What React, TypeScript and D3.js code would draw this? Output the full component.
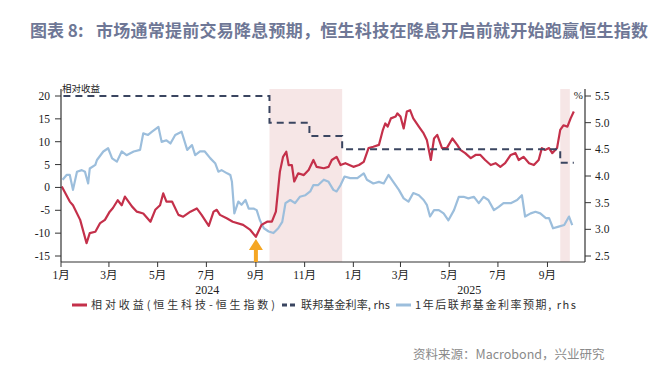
import React from "react";
import * as d3 from "d3";

// ---- data ----
const relativeReturn: [string, number][] = [
  ["2024-01-02", 0.2], ["2024-01-12", -3.1], ["2024-01-16", -3.9], ["2024-01-25", -7.1],
  ["2024-02-02", -12.2], ["2024-02-06", -10.0], ["2024-02-13", -9.7], ["2024-02-19", -7.8],
  ["2024-02-25", -7.1], ["2024-03-02", -5.3], ["2024-03-06", -4.5], ["2024-03-12", -2.8],
  ["2024-03-17", -3.9], ["2024-03-21", -2.0], ["2024-03-30", -4.2], ["2024-04-05", -5.3],
  ["2024-04-13", -5.7], ["2024-04-22", -7.5], ["2024-04-28", -4.9], ["2024-05-04", -3.9],
  ["2024-05-08", -1.3], ["2024-05-12", -3.1], ["2024-05-19", -3.1], ["2024-05-27", -6.0],
  ["2024-06-02", -6.4], ["2024-06-11", -5.3], ["2024-06-19", -4.6], ["2024-06-25", -6.0],
  ["2024-07-04", -8.4], ["2024-07-10", -5.3], ["2024-07-14", -4.9], ["2024-07-18", -6.0],
  ["2024-07-27", -6.8], ["2024-08-03", -7.5], ["2024-08-16", -8.2], ["2024-08-25", -9.3],
  ["2024-09-01", -10.8], ["2024-09-08", -8.2], ["2024-09-15", -7.5], ["2024-09-21", -7.5],
  ["2024-09-26", -5.3], ["2024-10-01", 3.4], ["2024-10-05", 6.7], ["2024-10-09", 7.8],
  ["2024-10-12", 4.9], ["2024-10-16", 4.9], ["2024-10-19", 1.3], ["2024-10-24", 3.1],
  ["2024-10-31", 2.7], ["2024-11-06", 3.8], ["2024-11-12", 6.0], ["2024-11-16", 4.5],
  ["2024-11-25", 4.2], ["2024-12-01", 4.5], ["2024-12-05", 6.0], ["2024-12-11", 6.7],
  ["2024-12-16", 4.9], ["2024-12-22", 5.3], ["2025-01-01", 4.5], ["2025-01-08", 4.9],
  ["2025-01-14", 5.6], ["2025-01-20", 8.6], ["2025-01-26", 8.9], ["2025-02-02", 9.3],
  ["2025-02-07", 12.6], ["2025-02-10", 14.0], ["2025-02-13", 13.3], ["2025-02-17", 15.1],
  ["2025-02-23", 15.5], ["2025-02-25", 16.2], ["2025-03-01", 15.5], ["2025-03-05", 12.9],
  ["2025-03-09", 16.6], ["2025-03-13", 16.9], ["2025-03-17", 15.1], ["2025-03-24", 13.3],
  ["2025-03-30", 11.8], ["2025-04-03", 10.4], ["2025-04-08", 6.0], ["2025-04-12", 10.7],
  ["2025-04-16", 11.5], ["2025-04-22", 8.6], ["2025-04-28", 8.6], ["2025-05-05", 10.7],
  ["2025-05-11", 9.3], ["2025-05-15", 8.2], ["2025-05-21", 7.5], ["2025-05-28", 6.4],
  ["2025-06-03", 7.1], ["2025-06-09", 7.1], ["2025-06-15", 6.0], ["2025-06-22", 4.9],
  ["2025-06-28", 5.3], ["2025-07-04", 4.5], ["2025-07-10", 5.3], ["2025-07-17", 7.1],
  ["2025-07-23", 7.5], ["2025-07-27", 6.0], ["2025-08-02", 6.7], ["2025-08-09", 5.3],
  ["2025-08-15", 4.9], ["2025-08-21", 6.0], ["2025-08-25", 8.6], ["2025-08-29", 8.2],
  ["2025-09-03", 8.6], ["2025-09-07", 7.5], ["2025-09-13", 8.6], ["2025-09-17", 12.6],
  ["2025-09-21", 13.6], ["2025-09-26", 13.3], ["2025-09-30", 15.1], ["2025-10-04", 16.6],
];

const fedExpect1y: [string, number][] = [
  ["2024-01-03", 3.93], ["2024-01-08", 4.02], ["2024-01-12", 4.02], ["2024-01-16", 3.74],
  ["2024-01-21", 4.08], ["2024-01-27", 4.11], ["2024-01-31", 4.08], ["2024-02-04", 3.86],
  ["2024-02-06", 4.14], ["2024-02-13", 4.21], ["2024-02-15", 4.30], ["2024-02-23", 4.46],
  ["2024-02-29", 4.52], ["2024-03-05", 4.33], ["2024-03-11", 4.27], ["2024-03-17", 4.46],
  ["2024-03-23", 4.39], ["2024-04-01", 4.46], ["2024-04-09", 4.49], ["2024-04-13", 4.80],
  ["2024-04-19", 4.77], ["2024-04-24", 4.83], ["2024-05-02", 4.92], ["2024-05-06", 4.64],
  ["2024-05-12", 4.67], ["2024-05-17", 4.61], ["2024-05-23", 4.77], ["2024-05-31", 4.83],
  ["2024-06-07", 4.49], ["2024-06-13", 4.58], ["2024-06-17", 4.39], ["2024-06-23", 4.46],
  ["2024-06-29", 4.46], ["2024-07-06", 4.33], ["2024-07-12", 4.24], ["2024-07-16", 4.08],
  ["2024-07-20", 4.11], ["2024-07-27", 4.05], ["2024-07-31", 4.02], ["2024-08-02", 3.89],
  ["2024-08-05", 3.30], ["2024-08-10", 3.52], ["2024-08-14", 3.46], ["2024-08-19", 3.55],
  ["2024-08-23", 3.39], ["2024-08-29", 3.39], ["2024-09-02", 3.36], ["2024-09-06", 3.17],
  ["2024-09-11", 3.02], ["2024-09-17", 2.96], ["2024-09-23", 2.93], ["2024-09-29", 3.02],
  ["2024-10-04", 3.14], ["2024-10-08", 3.49], ["2024-10-14", 3.55], ["2024-10-20", 3.49],
  ["2024-10-26", 3.61], ["2024-11-02", 3.64], ["2024-11-08", 3.71], ["2024-11-12", 3.83],
  ["2024-11-18", 3.83], ["2024-11-25", 3.93], ["2024-12-01", 3.89], ["2024-12-07", 3.74],
  ["2024-12-11", 3.71], ["2024-12-16", 3.83], ["2024-12-21", 3.99], ["2024-12-28", 3.96],
  ["2025-01-06", 3.96], ["2025-01-14", 4.05], ["2025-01-18", 3.93], ["2025-01-26", 3.86],
  ["2025-02-02", 3.89], ["2025-02-08", 3.86], ["2025-02-14", 4.02], ["2025-02-20", 3.89],
  ["2025-02-27", 3.74], ["2025-03-05", 3.58], ["2025-03-11", 3.52], ["2025-03-17", 3.68],
  ["2025-03-24", 3.64], ["2025-03-30", 3.55], ["2025-04-03", 3.46], ["2025-04-07", 3.24],
  ["2025-04-12", 3.36], ["2025-04-18", 3.36], ["2025-04-24", 3.30], ["2025-04-30", 3.17],
  ["2025-05-07", 3.36], ["2025-05-13", 3.61], ["2025-05-19", 3.61], ["2025-05-25", 3.58],
  ["2025-06-01", 3.61], ["2025-06-07", 3.49], ["2025-06-13", 3.61], ["2025-06-19", 3.55],
  ["2025-06-26", 3.36], ["2025-07-02", 3.42], ["2025-07-08", 3.49], ["2025-07-17", 3.49],
  ["2025-07-25", 3.55], ["2025-07-31", 3.64], ["2025-08-04", 3.24], ["2025-08-11", 3.30],
  ["2025-08-17", 3.33], ["2025-08-23", 3.30], ["2025-08-30", 3.21], ["2025-09-03", 3.21],
  ["2025-09-08", 3.02], ["2025-09-15", 3.05], ["2025-09-22", 3.08], ["2025-09-28", 3.24],
  ["2025-10-02", 3.08],
];

const fedFundsRate: [string, number][] = [
  ["2024-01-04", 5.5], ["2024-09-18", 5.0], ["2024-11-07", 4.75],
  ["2024-12-18", 4.5], ["2025-09-17", 4.25], ["2025-10-04", 4.25],
];

const cutPeriods: [string, string][] = [
  ["2024-09-18", "2024-12-18"],
  ["2025-09-17", "2025-09-29"],
];

const leftTicks = [20, 15, 10, 5, 0, -5, -10, -15];
const rightTicks = [5.5, 5.0, 4.5, 4.0, 3.5, 3.0, 2.5];
const monthTicks = [
  "2024-01-01", "2024-03-01", "2024-05-01", "2024-07-01", "2024-09-01", "2024-11-01",
  "2025-01-01", "2025-03-01", "2025-05-01", "2025-07-01", "2025-09-01",
];
const yearLabels: [string, string, string][] = [
  ["2024", "2024-01-01", "2025-01-01"],
  ["2025", "2025-01-01", "2025-10-18"],
];
const arrowDate = "2024-09-01";

const titleLabel = "图表 8:";
const titleText = "市场通常提前交易降息预期，恒生科技在降息开启前就开始跑赢恒生指数";
const legendNames = ["相对收益(恒生科技-恒生指数)", "联邦基金利率, rhs", "1年后联邦基金利率预期, rhs"];
const source = "资料来源：Macrobond，兴业研究";

const parse = d3.timeParse("%Y-%m-%d") as (s: string) => Date;

export default function App() {
  const W = 672, H = 376;
  const x0 = 61, x1 = 585, yTop = 89, yBot = 262;
  const x = d3.scaleTime().domain([parse("2024-01-01"), parse("2025-10-18")]).range([x0, x1]);
  const yL = d3.scaleLinear().domain([-15, 20]).range([256, 96]);
  const yR = d3.scaleLinear().domain([2.5, 5.5]).range([256, 96]);

  const red = "#c4304a";
  const blue = "#9cbedc";
  const navy = "#3a4560";
  const serif = "'Liberation Serif', 'Noto Sans CJK SC', serif";
  const cjk = "'Noto Sans CJK SC', sans-serif";

  const lineL = d3.line<[string, number]>().x(d => x(parse(d[0]))).y(d => yL(d[1]));
  const lineR = d3.line<[string, number]>().x(d => x(parse(d[0]))).y(d => yR(d[1]));
  const stepR = d3.line<[string, number]>().x(d => x(parse(d[0]))).y(d => yR(d[1])).curve(d3.curveStepAfter);

  const ax = x(parse(arrowDate));

  return (
    <div style={{ position: "absolute", left: 0, top: 0 }}>
      <svg width={W} height={H} style={{ display: "block", background: "#fff" }}>
        <text x={30} y={37} fontFamily={cjk} fontWeight={700} fontSize={17} fill="#6e7796">{titleLabel}</text>
        <text x={96} y={37} fontFamily={cjk} fontWeight={700} fontSize={17} fill="#6e7796" textLength={552} lengthAdjust="spacing">{titleText}</text>

        {cutPeriods.map((p, i) => (
          <rect key={i} x={x(parse(p[0]))} y={yTop} width={x(parse(p[1])) - x(parse(p[0]))} height={yBot - yTop} fill="#f6e6e6" />
        ))}

        <path d={lineR(fedExpect1y) || ""} fill="none" stroke={blue} strokeWidth={2.2} strokeLinejoin="round" />
        <path d={lineL(relativeReturn) || ""} fill="none" stroke={red} strokeWidth={2.2} strokeLinejoin="round" />
        <path d={stepR(fedFundsRate) || ""} fill="none" stroke={navy} strokeWidth={2} strokeDasharray="7,5" />

        {/* axes */}
        <line x1={x0} x2={x0} y1={yTop} y2={yBot} stroke="#333" strokeWidth={1.2} />
        <line x1={x1} x2={x1} y1={yTop} y2={yBot} stroke="#333" strokeWidth={1.2} />
        <line x1={x0} x2={x1} y1={yBot} y2={yBot} stroke="#333" strokeWidth={1.2} />

        {leftTicks.map(t => (
          <g key={"l" + t}>
            <line x1={x0 - 6} x2={x0} y1={yL(t)} y2={yL(t)} stroke="#333" />
            <text x={x0 - 11} y={yL(t) + 4} textAnchor="end" fontFamily={serif} fontSize={11.5} fill="#222">{t}</text>
          </g>
        ))}
        {rightTicks.map(t => (
          <g key={"r" + t}>
            <line x1={x1} x2={x1 + 6} y1={yR(t)} y2={yR(t)} stroke="#333" />
            <text x={x1 + 10} y={yR(t) + 4} textAnchor="start" fontFamily={serif} fontSize={11.5} fill="#222">{t.toFixed(1)}</text>
          </g>
        ))}
        {monthTicks.map(m => {
          const d = parse(m);
          return (
            <g key={m}>
              <line x1={x(d)} x2={x(d)} y1={yBot} y2={yBot + 5} stroke="#333" />
              <text x={x(d)} y={yBot + 17} textAnchor="middle" fontFamily={serif} fontSize={11.5} fill="#222">{(d.getMonth() + 1) + "月"}</text>
            </g>
          );
        })}
        {yearLabels.map(([lab, a, b]) => (
          <text key={lab} x={(x(parse(a)) + x(parse(b))) / 2} y={294} textAnchor="middle" fontFamily={serif} fontSize={12} fill="#222">{lab}</text>
        ))}

        <text x={x0 + 1} y={92} fontFamily={cjk} fontSize={9.5} fill="#222">相对收益</text>
        <text x={x1 - 2} y={99} textAnchor="end" fontFamily={serif} fontSize={11} fill="#222">%</text>

        {/* arrow */}
        <g fill="#f5a623">
          <path d={`M${ax},${239} L${ax + 7},${250} L${ax + 2},${250} L${ax + 2},${yBot} L${ax - 2},${yBot} L${ax - 2},${250} L${ax - 7},${250} Z`} />
        </g>

        {/* legend */}
        <line x1={72} x2={87} y1={305} y2={305} stroke={red} strokeWidth={3} />
        <text x={91} y={309} fontFamily={cjk} fontSize={11} fill="#333" textLength={184} lengthAdjust="spacing">{legendNames[0]}</text>
        <line x1={282} x2={297} y1={305} y2={305} stroke={navy} strokeWidth={3} strokeDasharray="5,3" />
        <text x={301} y={309} fontFamily={cjk} fontSize={11} fill="#333" textLength={89} lengthAdjust="spacing">{legendNames[1]}</text>
        <line x1={396} x2={411} y1={305} y2={305} stroke={blue} strokeWidth={3} />
        <text x={415} y={309} fontFamily={cjk} fontSize={11} fill="#333" textLength={161} lengthAdjust="spacing">{legendNames[2]}</text>

        <text x={413} y={359} fontFamily={cjk} fontSize={12.5} fill="#8a8a8a">{source}</text>
      </svg>
    </div>
  );
}
